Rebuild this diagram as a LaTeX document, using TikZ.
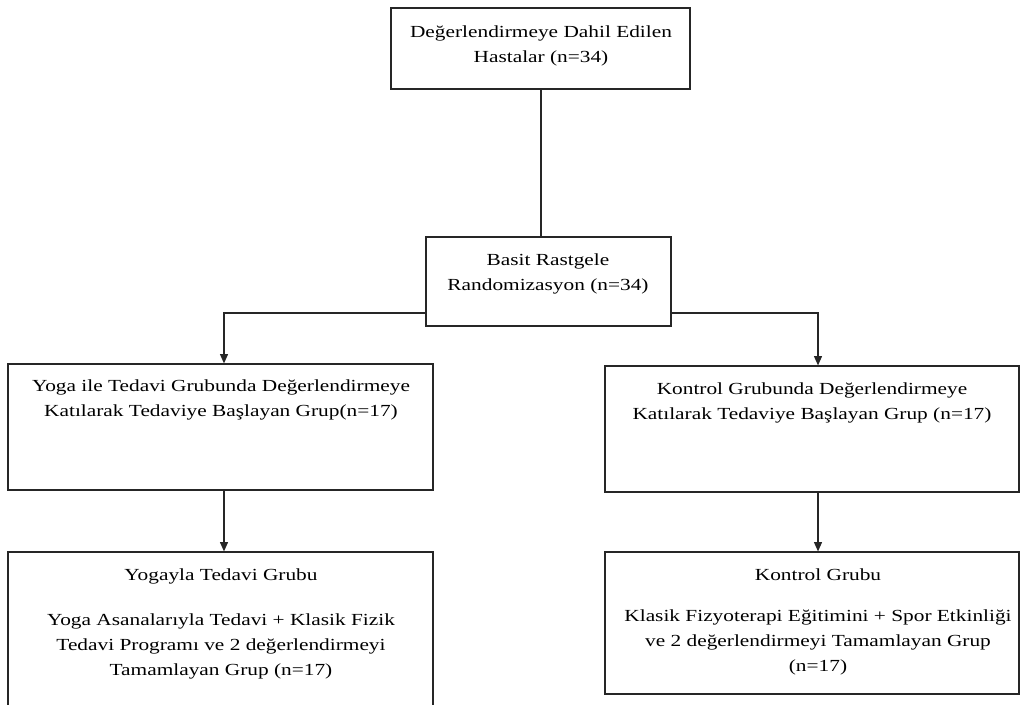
\documentclass[tikz,border=0pt]{standalone}
\usepackage{fontspec}
\setmainfont[FakeStretch=1.26]{Liberation Serif}
\usetikzlibrary{arrows.meta}
\begin{document}
\begin{tikzpicture}[x=0.75pt,y=-0.75pt,
  box/.style={draw=black!85,line width=0.9pt,rectangle,inner sep=0pt},
  txt/.style={align=center,inner sep=0pt,font=\fontsize{12.7pt}{18.75pt}\selectfont},
  conn/.style={draw=black!85,line width=0.9pt},
  arr/.style={conn,-{Triangle[length=7pt,width=6pt]}}]
\useasboundingbox (0,0) rectangle (1020,704);
% boxes
\node[box,minimum width=299*0.75pt,minimum height=81*0.75pt] (top) at (540.5,48.5) {};
\node[box,minimum width=245*0.75pt,minimum height=89*0.75pt] (rand) at (548.5,281.5) {};
\node[box,minimum width=425*0.75pt,minimum height=126*0.75pt] (yoga) at (220.5,427) {};
\node[box,minimum width=414*0.75pt,minimum height=126*0.75pt] (kont) at (812,429) {};
\node[box,minimum width=425*0.75pt,minimum height=160*0.75pt] (yogaend) at (220.5,632) {};
\node[box,minimum width=414*0.75pt,minimum height=142*0.75pt] (kontend) at (812,623) {};
% texts
\node[txt] (ttop) at (541,46) {Değerlendirmeye Dahil Edilen\\Hastalar (n=34)};
\node[txt] (trand) at (548,274) {Basit Rastgele\\Randomizasyon (n=34)};
\node[txt] (tyoga) at (221,400) {Yoga ile Tedavi Grubunda Değerlendirmeye\\Katılarak Tedaviye Başlayan Grup(n=17)};
\node[txt] (tkont) at (812,403) {Kontrol Grubunda Değerlendirmeye\\Katılarak Tedaviye Başlayan Grup (n=17)};
\node[txt] (tyogaend) at (221,624) {Yogayla Tedavi Grubu\\[15pt]Yoga Asanalarıyla Tedavi + Klasik Fizik\\Tedavi Programı ve 2 değerlendirmeyi\\Tamamlayan Grup (n=17)};
\node[txt] (tkontend) at (818,621.5) {Kontrol Grubu\\[12pt]Klasik Fizyoterapi Eğitimini + Spor Etkinliği\\ve 2 değerlendirmeyi Tamamlayan Grup\\(n=17)};
% connectors
\coordinate (jl) at (224,313);
\coordinate (jr) at (818,313);
\draw[conn] (top.south -| 541,0) -- (rand.north -| 541,0);
\draw[arr] (rand.west |- jl) -- (jl) -- (yoga.north -| jl);
\draw[arr] (rand.east |- jr) -- (jr) -- (kont.north -| jr);
\draw[arr] (yoga.south -| jl) -- (yogaend.north -| jl);
\draw[arr] (kont.south -| jr) -- (kontend.north -| jr);
\end{tikzpicture}
\end{document}
